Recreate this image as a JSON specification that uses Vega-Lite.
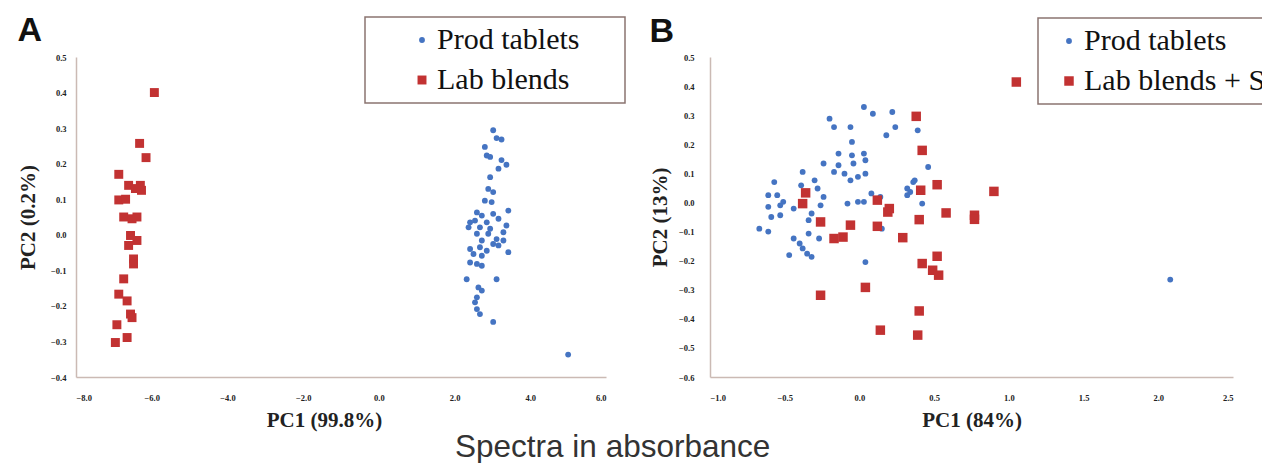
{
  "$schema": "https://vega.github.io/schema/vega-lite/v6.json",
  "background": "white",
  "padding": {"left": 17, "top": 14, "right": 0, "bottom": 2},
  "title": {"text": "Spectra in absorbance", "orient": "bottom", "anchor": "middle", "font": "Liberation Sans", "fontSize": 31.5, "fontWeight": "normal", "color": "#333333", "offset": 1, "dx": -41},
  "datasets": {
    "a": [
      {"group": "Lab blends", "pc1": -5.93, "pc2": 0.40},
      {"group": "Lab blends", "pc1": -6.32, "pc2": 0.257},
      {"group": "Lab blends", "pc1": -6.15, "pc2": 0.217},
      {"group": "Lab blends", "pc1": -6.87, "pc2": 0.17},
      {"group": "Lab blends", "pc1": -6.61, "pc2": 0.139},
      {"group": "Lab blends", "pc1": -6.30, "pc2": 0.139},
      {"group": "Lab blends", "pc1": -6.43, "pc2": 0.13},
      {"group": "Lab blends", "pc1": -6.27, "pc2": 0.125},
      {"group": "Lab blends", "pc1": -6.87, "pc2": 0.098},
      {"group": "Lab blends", "pc1": -6.69, "pc2": 0.10},
      {"group": "Lab blends", "pc1": -6.74, "pc2": 0.05},
      {"group": "Lab blends", "pc1": -6.52, "pc2": 0.045},
      {"group": "Lab blends", "pc1": -6.39, "pc2": 0.05},
      {"group": "Lab blends", "pc1": -6.56, "pc2": -0.002},
      {"group": "Lab blends", "pc1": -6.39, "pc2": -0.016},
      {"group": "Lab blends", "pc1": -6.61, "pc2": -0.03},
      {"group": "Lab blends", "pc1": -6.48, "pc2": -0.068},
      {"group": "Lab blends", "pc1": -6.48, "pc2": -0.082},
      {"group": "Lab blends", "pc1": -6.74, "pc2": -0.124},
      {"group": "Lab blends", "pc1": -6.87, "pc2": -0.167},
      {"group": "Lab blends", "pc1": -6.65, "pc2": -0.186},
      {"group": "Lab blends", "pc1": -6.56, "pc2": -0.223},
      {"group": "Lab blends", "pc1": -6.52, "pc2": -0.233},
      {"group": "Lab blends", "pc1": -6.92, "pc2": -0.253},
      {"group": "Lab blends", "pc1": -6.96, "pc2": -0.303},
      {"group": "Lab blends", "pc1": -6.65, "pc2": -0.289},
      {"group": "Prod tablets", "pc1": 3.02, "pc2": 0.294},
      {"group": "Prod tablets", "pc1": 3.11, "pc2": 0.272},
      {"group": "Prod tablets", "pc1": 3.24, "pc2": 0.268},
      {"group": "Prod tablets", "pc1": 2.80, "pc2": 0.247},
      {"group": "Prod tablets", "pc1": 2.85, "pc2": 0.223},
      {"group": "Prod tablets", "pc1": 2.94, "pc2": 0.219},
      {"group": "Prod tablets", "pc1": 3.24, "pc2": 0.21},
      {"group": "Prod tablets", "pc1": 3.37, "pc2": 0.197},
      {"group": "Prod tablets", "pc1": 3.16, "pc2": 0.186},
      {"group": "Prod tablets", "pc1": 2.94, "pc2": 0.162},
      {"group": "Prod tablets", "pc1": 2.89, "pc2": 0.129},
      {"group": "Prod tablets", "pc1": 3.02, "pc2": 0.12},
      {"group": "Prod tablets", "pc1": 2.80, "pc2": 0.096},
      {"group": "Prod tablets", "pc1": 2.98, "pc2": 0.092},
      {"group": "Prod tablets", "pc1": 3.42, "pc2": 0.068},
      {"group": "Prod tablets", "pc1": 2.59, "pc2": 0.063},
      {"group": "Prod tablets", "pc1": 2.72, "pc2": 0.054},
      {"group": "Prod tablets", "pc1": 3.02, "pc2": 0.059},
      {"group": "Prod tablets", "pc1": 2.41, "pc2": 0.035},
      {"group": "Prod tablets", "pc1": 2.54, "pc2": 0.04},
      {"group": "Prod tablets", "pc1": 2.85, "pc2": 0.035},
      {"group": "Prod tablets", "pc1": 3.16, "pc2": 0.045},
      {"group": "Prod tablets", "pc1": 2.37, "pc2": 0.021},
      {"group": "Prod tablets", "pc1": 2.67, "pc2": 0.021},
      {"group": "Prod tablets", "pc1": 2.94, "pc2": 0.017},
      {"group": "Prod tablets", "pc1": 3.37, "pc2": 0.026},
      {"group": "Prod tablets", "pc1": 2.59, "pc2": 0.003},
      {"group": "Prod tablets", "pc1": 2.89, "pc2": 0.003},
      {"group": "Prod tablets", "pc1": 3.29, "pc2": 0.007},
      {"group": "Prod tablets", "pc1": 2.72, "pc2": -0.016},
      {"group": "Prod tablets", "pc1": 3.11, "pc2": -0.012},
      {"group": "Prod tablets", "pc1": 3.29, "pc2": -0.016},
      {"group": "Prod tablets", "pc1": 3.02, "pc2": -0.026},
      {"group": "Prod tablets", "pc1": 3.16, "pc2": -0.03},
      {"group": "Prod tablets", "pc1": 2.41, "pc2": -0.04},
      {"group": "Prod tablets", "pc1": 2.67, "pc2": -0.035},
      {"group": "Prod tablets", "pc1": 2.85, "pc2": -0.045},
      {"group": "Prod tablets", "pc1": 3.42, "pc2": -0.049},
      {"group": "Prod tablets", "pc1": 2.50, "pc2": -0.054},
      {"group": "Prod tablets", "pc1": 2.72, "pc2": -0.059},
      {"group": "Prod tablets", "pc1": 2.41, "pc2": -0.078},
      {"group": "Prod tablets", "pc1": 2.59, "pc2": -0.082},
      {"group": "Prod tablets", "pc1": 2.72, "pc2": -0.087},
      {"group": "Prod tablets", "pc1": 2.32, "pc2": -0.125},
      {"group": "Prod tablets", "pc1": 3.11, "pc2": -0.125},
      {"group": "Prod tablets", "pc1": 2.63, "pc2": -0.148},
      {"group": "Prod tablets", "pc1": 2.72, "pc2": -0.157},
      {"group": "Prod tablets", "pc1": 2.59, "pc2": -0.176},
      {"group": "Prod tablets", "pc1": 2.54, "pc2": -0.19},
      {"group": "Prod tablets", "pc1": 2.59, "pc2": -0.209},
      {"group": "Prod tablets", "pc1": 2.67, "pc2": -0.223},
      {"group": "Prod tablets", "pc1": 3.02, "pc2": -0.245},
      {"group": "Prod tablets", "pc1": 5.0, "pc2": -0.337}
    ],
    "b": [
      {"group": "Prod tablets", "pc1": 0.03, "pc2": 0.328},
      {"group": "Prod tablets", "pc1": 0.09, "pc2": 0.305},
      {"group": "Prod tablets", "pc1": 0.22, "pc2": 0.311},
      {"group": "Prod tablets", "pc1": -0.20, "pc2": 0.288},
      {"group": "Prod tablets", "pc1": -0.17, "pc2": 0.259},
      {"group": "Prod tablets", "pc1": -0.06, "pc2": 0.259},
      {"group": "Prod tablets", "pc1": 0.24, "pc2": 0.259},
      {"group": "Prod tablets", "pc1": 0.18, "pc2": 0.231},
      {"group": "Prod tablets", "pc1": 0.39, "pc2": 0.248},
      {"group": "Prod tablets", "pc1": -0.05, "pc2": 0.208},
      {"group": "Prod tablets", "pc1": -0.14, "pc2": 0.168},
      {"group": "Prod tablets", "pc1": -0.05, "pc2": 0.162},
      {"group": "Prod tablets", "pc1": 0.03, "pc2": 0.168},
      {"group": "Prod tablets", "pc1": -0.24, "pc2": 0.134},
      {"group": "Prod tablets", "pc1": -0.14, "pc2": 0.128},
      {"group": "Prod tablets", "pc1": -0.04, "pc2": 0.134},
      {"group": "Prod tablets", "pc1": 0.04, "pc2": 0.145},
      {"group": "Prod tablets", "pc1": 0.46, "pc2": 0.122},
      {"group": "Prod tablets", "pc1": -0.38, "pc2": 0.105},
      {"group": "Prod tablets", "pc1": -0.30, "pc2": 0.076},
      {"group": "Prod tablets", "pc1": -0.57, "pc2": 0.070},
      {"group": "Prod tablets", "pc1": -0.17, "pc2": 0.105},
      {"group": "Prod tablets", "pc1": -0.10, "pc2": 0.099},
      {"group": "Prod tablets", "pc1": -0.06, "pc2": 0.076},
      {"group": "Prod tablets", "pc1": -0.01, "pc2": 0.088},
      {"group": "Prod tablets", "pc1": 0.04, "pc2": 0.099},
      {"group": "Prod tablets", "pc1": -0.39, "pc2": 0.059},
      {"group": "Prod tablets", "pc1": -0.28, "pc2": 0.048},
      {"group": "Prod tablets", "pc1": 0.36, "pc2": 0.07},
      {"group": "Prod tablets", "pc1": 0.32, "pc2": 0.048},
      {"group": "Prod tablets", "pc1": 0.37, "pc2": 0.076},
      {"group": "Prod tablets", "pc1": -0.24, "pc2": 0.019},
      {"group": "Prod tablets", "pc1": -0.26, "pc2": -0.01},
      {"group": "Prod tablets", "pc1": -0.32, "pc2": -0.038},
      {"group": "Prod tablets", "pc1": -0.34, "pc2": -0.061},
      {"group": "Prod tablets", "pc1": -0.61, "pc2": 0.025},
      {"group": "Prod tablets", "pc1": -0.55, "pc2": 0.025},
      {"group": "Prod tablets", "pc1": -0.51, "pc2": 0.002},
      {"group": "Prod tablets", "pc1": -0.44, "pc2": -0.021},
      {"group": "Prod tablets", "pc1": -0.61, "pc2": -0.015},
      {"group": "Prod tablets", "pc1": -0.53, "pc2": -0.01},
      {"group": "Prod tablets", "pc1": -0.59, "pc2": -0.05},
      {"group": "Prod tablets", "pc1": -0.53, "pc2": -0.044},
      {"group": "Prod tablets", "pc1": -0.08, "pc2": -0.004},
      {"group": "Prod tablets", "pc1": -0.01, "pc2": 0.002},
      {"group": "Prod tablets", "pc1": 0.03, "pc2": 0.002},
      {"group": "Prod tablets", "pc1": 0.08, "pc2": 0.031},
      {"group": "Prod tablets", "pc1": 0.14, "pc2": 0.019},
      {"group": "Prod tablets", "pc1": 0.32, "pc2": 0.025},
      {"group": "Prod tablets", "pc1": 0.34, "pc2": 0.036},
      {"group": "Prod tablets", "pc1": 0.42, "pc2": -0.004},
      {"group": "Prod tablets", "pc1": -0.67, "pc2": -0.09},
      {"group": "Prod tablets", "pc1": -0.61, "pc2": -0.10},
      {"group": "Prod tablets", "pc1": 0.15, "pc2": -0.09},
      {"group": "Prod tablets", "pc1": -0.44, "pc2": -0.124},
      {"group": "Prod tablets", "pc1": -0.40, "pc2": -0.141},
      {"group": "Prod tablets", "pc1": -0.38, "pc2": -0.158},
      {"group": "Prod tablets", "pc1": -0.35, "pc2": -0.176},
      {"group": "Prod tablets", "pc1": -0.32, "pc2": -0.187},
      {"group": "Prod tablets", "pc1": -0.34, "pc2": -0.107},
      {"group": "Prod tablets", "pc1": -0.27, "pc2": -0.124},
      {"group": "Prod tablets", "pc1": -0.47, "pc2": -0.181},
      {"group": "Prod tablets", "pc1": 0.04, "pc2": -0.205},
      {"group": "Prod tablets", "pc1": 2.08, "pc2": -0.265},
      {"group": "Lab blends + Sp", "pc1": 0.38, "pc2": 0.296},
      {"group": "Lab blends + Sp", "pc1": 0.42, "pc2": 0.179},
      {"group": "Lab blends + Sp", "pc1": -0.36, "pc2": 0.033},
      {"group": "Lab blends + Sp", "pc1": -0.38, "pc2": -0.004},
      {"group": "Lab blends + Sp", "pc1": 0.52, "pc2": 0.061},
      {"group": "Lab blends + Sp", "pc1": 0.41, "pc2": 0.042},
      {"group": "Lab blends + Sp", "pc1": 0.12, "pc2": 0.008},
      {"group": "Lab blends + Sp", "pc1": 0.20, "pc2": -0.021},
      {"group": "Lab blends + Sp", "pc1": 0.19, "pc2": -0.033},
      {"group": "Lab blends + Sp", "pc1": 0.58, "pc2": -0.036},
      {"group": "Lab blends + Sp", "pc1": -0.26, "pc2": -0.067},
      {"group": "Lab blends + Sp", "pc1": 0.40, "pc2": -0.059},
      {"group": "Lab blends + Sp", "pc1": -0.06, "pc2": -0.078},
      {"group": "Lab blends + Sp", "pc1": 0.12, "pc2": -0.082},
      {"group": "Lab blends + Sp", "pc1": -0.17, "pc2": -0.124},
      {"group": "Lab blends + Sp", "pc1": -0.11, "pc2": -0.119},
      {"group": "Lab blends + Sp", "pc1": 0.29, "pc2": -0.121},
      {"group": "Lab blends + Sp", "pc1": 0.52, "pc2": -0.185},
      {"group": "Lab blends + Sp", "pc1": 0.42, "pc2": -0.21},
      {"group": "Lab blends + Sp", "pc1": 0.49, "pc2": -0.233},
      {"group": "Lab blends + Sp", "pc1": 0.53, "pc2": -0.25},
      {"group": "Lab blends + Sp", "pc1": -0.26, "pc2": -0.319},
      {"group": "Lab blends + Sp", "pc1": 0.04, "pc2": -0.292},
      {"group": "Lab blends + Sp", "pc1": 0.40, "pc2": -0.373},
      {"group": "Lab blends + Sp", "pc1": 0.14, "pc2": -0.439},
      {"group": "Lab blends + Sp", "pc1": 0.39, "pc2": -0.456},
      {"group": "Lab blends + Sp", "pc1": 0.90, "pc2": 0.038},
      {"group": "Lab blends + Sp", "pc1": 0.77, "pc2": -0.044},
      {"group": "Lab blends + Sp", "pc1": 0.77, "pc2": -0.058},
      {"group": "Lab blends + Sp", "pc1": 1.05, "pc2": 0.414}
    ]
  },
  "spacing": 23,
  "hconcat": [
    {
      "title": {"text": "A", "anchor": "start", "frame": "bounds", "font": "Liberation Sans", "fontSize": 34, "fontWeight": "bold", "color": "#111111", "offset": -32},
      "width": 530,
      "height": 320,
      "data": {"name": "a"},
      "mark": {"type": "point", "filled": true, "opacity": 1},
      "encoding": {
        "x": {"field": "pc1", "type": "quantitative", "scale": {"domain": [-8, 6], "nice": false, "zero": false}, "axis": {"title": "PC1 (99.8%)", "values": [-8, -6, -4, -2, 0, 2, 4, 6], "format": ".1f", "titleX": 248}},
        "y": {"field": "pc2", "type": "quantitative", "scale": {"domain": [-0.4, 0.5], "nice": false, "zero": false}, "axis": {"title": "PC2 (0.2%)", "values": [-0.4, -0.3, -0.2, -0.1, 0, 0.1, 0.2, 0.3, 0.4, 0.5], "format": ".1f", "labelPadding": 10, "titlePadding": 12}},
        "color": {"field": "group", "type": "nominal", "scale": {"domain": ["Prod tablets", "Lab blends"], "range": ["#4574c2", "#c23232"]}, "legend": {"title": null, "orient": "none", "legendX": 289, "legendY": -40, "symbolOffset": 34, "labelExpr": "datum.label + '\u00a0\u00a0\u00a0\u00a0\u00a0\u200b'"}},
        "shape": {"field": "group", "type": "nominal", "scale": {"domain": ["Prod tablets", "Lab blends"], "range": ["circle", "square"]}, "legend": {"title": null, "orient": "none", "legendX": 289, "legendY": -40, "symbolOffset": 34, "labelExpr": "datum.label + '\u00a0\u00a0\u00a0\u00a0\u00a0\u200b'"}},
        "size": {"field": "group", "type": "nominal", "scale": {"domain": ["Prod tablets", "Lab blends"], "range": [34, 80]}, "legend": null}
      }
    },
    {
      "title": {"text": "B", "anchor": "start", "frame": "bounds", "font": "Liberation Sans", "fontSize": 34, "fontWeight": "bold", "color": "#111111", "offset": -32},
      "width": 523,
      "height": 320,
      "data": {"name": "b"},
      "mark": {"type": "point", "filled": true, "opacity": 1},
      "encoding": {
        "x": {"field": "pc1", "type": "quantitative", "scale": {"domain": [-1, 2.5], "nice": false, "zero": false}, "axis": {"title": "PC1 (84%)", "values": [-1, -0.5, 0, 0.5, 1, 1.5, 2, 2.5], "format": ".1f"}},
        "y": {"field": "pc2", "type": "quantitative", "scale": {"domain": [-0.6, 0.5], "nice": false, "zero": false}, "axis": {"title": "PC2 (13%)", "values": [-0.6, -0.5, -0.4, -0.3, -0.2, -0.1, 0, 0.1, 0.2, 0.3, 0.4, 0.5], "format": ".1f", "labelPadding": 16, "titlePadding": 8}},
        "color": {"field": "group", "type": "nominal", "scale": {"domain": ["Prod tablets", "Lab blends + Sp"], "range": ["#4574c2", "#c23232"]}, "legend": {"title": null, "orient": "none", "legendX": 328, "legendY": -39, "symbolOffset": 8}},
        "shape": {"field": "group", "type": "nominal", "scale": {"domain": ["Prod tablets", "Lab blends + Sp"], "range": ["circle", "square"]}, "legend": {"title": null, "orient": "none", "legendX": 328, "legendY": -39, "symbolOffset": 8}},
        "size": {"field": "group", "type": "nominal", "scale": {"domain": ["Prod tablets", "Lab blends + Sp"], "range": [34, 90]}, "legend": null}
      }
    }
  ],
  "resolve": {"scale": {"color": "independent", "shape": "independent", "size": "independent"}, "legend": {"color": "independent", "shape": "independent"}},
  "config": {
    "view": {"stroke": null},
    "axis": {"labelFont": "Liberation Serif", "labelFontWeight": "bold", "labelFontSize": 8.5, "labelColor": "#222222", "titleFont": "Liberation Serif", "titleFontWeight": "bold", "titleFontSize": 21, "titleColor": "#222222", "grid": false, "domainColor": "#cbbab4", "domainWidth": 1.5, "ticks": false},
    "axisX": {"labelPadding": 16, "titlePadding": 8},
    "legend": {"labelFont": "Liberation Serif", "labelFontSize": 30, "labelColor": "#111111", "strokeColor": "#8a7470", "strokeWidth": 1.5, "fillColor": "white", "padding": 8, "symbolSize": 25, "labelOffset": 0, "rowPadding": 10, "labelLimit": 400}
  }
}
